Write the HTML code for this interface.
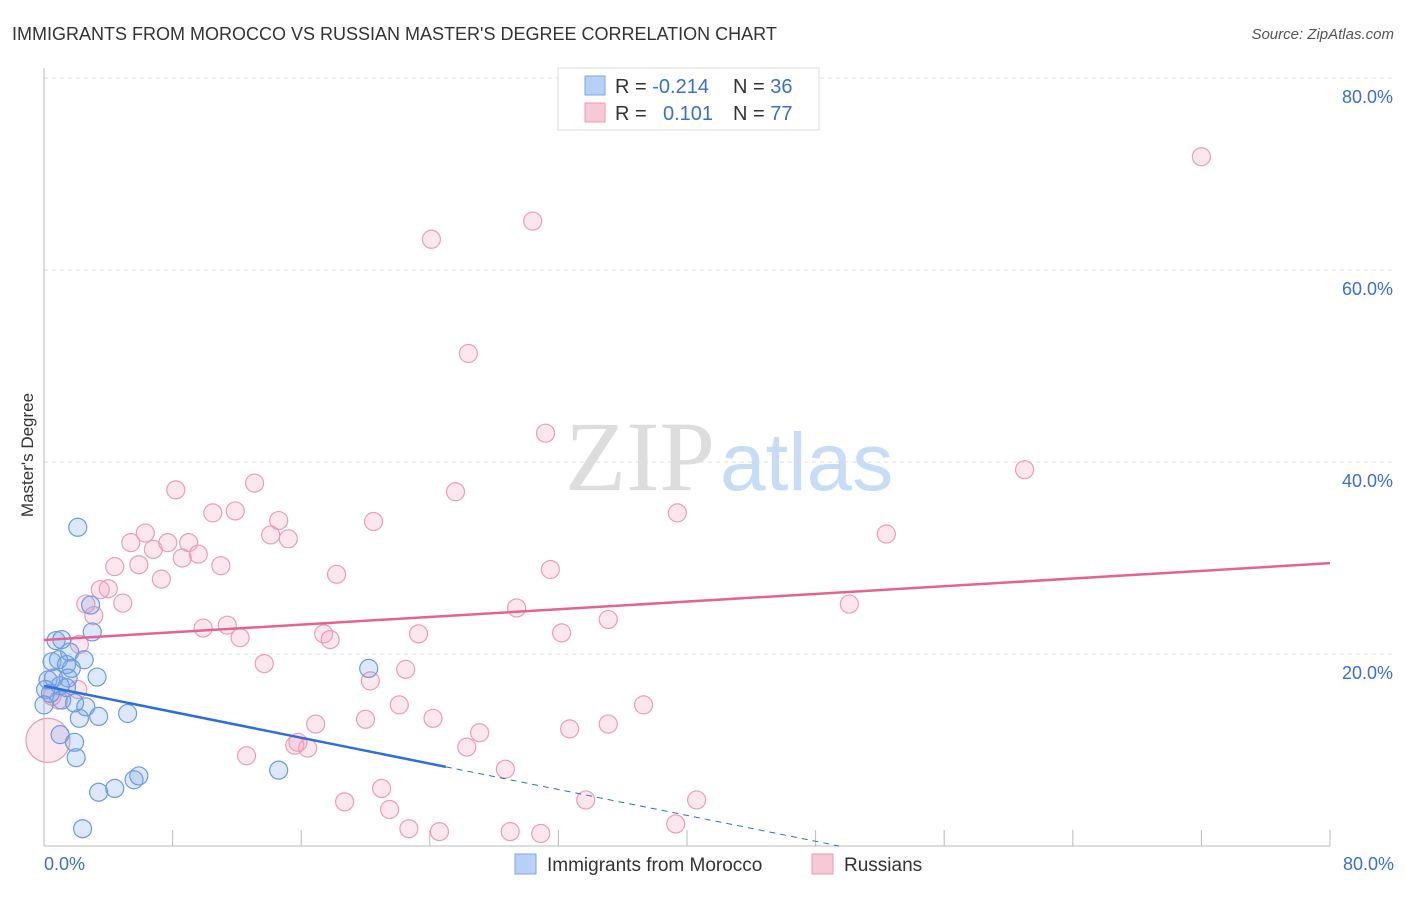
<!DOCTYPE html>
<html><head><meta charset="utf-8"><style>
body{margin:0;background:#fff;font-family:"Liberation Sans",sans-serif}
svg text{font-family:"Liberation Sans",sans-serif}
</style></head><body>
<svg width="1406" height="892" viewBox="0 0 1406 892">
<text x="12" y="40" font-size="18" fill="#333">IMMIGRANTS FROM MOROCCO VS RUSSIAN MASTER'S DEGREE CORRELATION CHART</text>
<text x="1394" y="39" font-size="15" fill="#555" font-style="italic" text-anchor="end">Source: ZipAtlas.com</text>
<text x="715" y="490" font-size="100" fill="#ddd" text-anchor="end" style="font-family:'Liberation Serif',serif">ZIP</text>
<text x="720" y="490" font-size="82" fill="#c7dcf5">atlas</text>
<g id="grid"></g>
<line x1="44" y1="68" x2="44" y2="846" stroke="#bbb"/>
<line x1="44" y1="846" x2="1330" y2="846" stroke="#bbb"/>
<text x="33" y="455" font-size="17" fill="#333" transform="rotate(-90 33 455)" text-anchor="middle">Master's Degree</text>
<text x="44" y="870" font-size="18" fill="#3a6fd0">0.0%</text>
<text x="1394" y="870" font-size="18" fill="#3a6fd0" text-anchor="end">80.0%</text>
<g id="pts"></g>
<g id="lines"></g>
<g>
<rect x="558" y="68" width="261" height="62" fill="#fff" stroke="#ddd"/>
<rect x="585" y="76" width="20" height="19" fill="#b7d0f5" stroke="#7da6e6"/>
<rect x="585" y="103" width="20" height="19" fill="#f9c8d6" stroke="#ea9ab4"/>
<text x="615" y="93" font-size="20" fill="#333">R = <tspan fill="#3a6fd0">-0.214</tspan><tspan x="733">N = </tspan><tspan fill="#3a6fd0">36</tspan></text>
<text x="615" y="120" font-size="20" fill="#333">R = <tspan x="663" fill="#3a6fd0">0.101</tspan><tspan x="733">N = </tspan><tspan fill="#3a6fd0">77</tspan></text>
</g>
<g>
<rect x="515" y="854" width="21" height="20" fill="#b7d0f5" stroke="#7da6e6"/>
<text x="547" y="871" font-size="19" fill="#333">Immigrants from Morocco</text>
<rect x="812" y="854" width="21" height="20" fill="#f9c8d6" stroke="#ea9ab4"/>
<text x="844" y="871" font-size="19" fill="#333">Russians</text>
</g>
</svg>
<script>
const yTicks=[20,40,60,80];
const xTicks=[0,8,16,24,32,40,48,56,64,72,80];
const moroccoX=[2.1,2.9,3.0,0.75,1.1,1.6,2.5,0.5,0.9,1.4,1.7,0.25,0.6,1.5,3.3,1.0,1.4,1.9,1.1,2.6,2.2,3.4,5.2,0.1,1.0,1.9,2.0,3.4,4.4,5.6,5.9,14.6,2.4,20.2,0.4,0.0];
const moroccoY=[33.2,25.1,22.3,21.4,21.5,20.2,19.4,19.2,19.4,18.9,18.5,17.3,17.5,17.5,17.6,16.7,16.5,14.9,15.2,14.5,13.3,13.5,13.8,16.3,11.6,10.8,9.2,5.6,6.0,6.9,7.3,7.9,1.8,18.5,15.9,14.7];
const russiansX=[72.0,30.4,24.1,26.4,31.2,61.0,8.2,13.1,25.6,10.5,11.9,39.4,14.6,20.5,6.3,5.4,7.7,9.0,6.8,14.1,15.2,52.4,9.6,8.6,4.4,5.9,11.0,18.2,31.5,7.3,4.0,3.5,2.6,4.9,29.4,50.1,3.1,35.1,9.9,11.4,12.2,17.4,17.8,23.3,32.2,2.2,13.7,22.5,20.3,2.1,0.5,0.9,16.9,20.0,22.1,24.2,27.1,32.7,35.1,37.3,15.8,15.6,16.4,26.3,12.6,28.7,18.7,21.0,21.5,22.7,24.6,29.0,30.9,33.7,39.3,40.6,0.25];
const russiansY=[71.8,65.1,63.2,51.3,43.0,39.2,37.1,37.8,36.9,34.7,34.9,34.7,33.9,33.8,32.6,31.6,31.6,31.6,30.9,32.4,32.0,32.5,30.4,30.0,29.1,29.3,29.2,28.3,28.8,27.8,26.8,26.7,25.2,25.3,24.8,25.2,24.0,23.6,22.7,23.0,21.7,22.1,21.5,22.1,22.2,21.0,19.0,18.4,17.2,16.3,15.6,15.2,12.7,13.2,14.7,13.3,11.8,12.2,12.7,14.7,10.8,10.5,10.2,10.3,9.4,8.0,4.6,6.0,3.8,1.8,1.5,1.5,1.3,4.8,2.3,4.8,11.0];
const moroccoTrend=[16.67,-0.337];
const russiansTrend=[21.46,0.1];
const NS='http://www.w3.org/2000/svg';
const xs=v=>44+v*16.075, ys=v=>846-v*9.6;
function mk(t,a,p){const e=document.createElementNS(NS,t);for(const k in a)e.setAttribute(k,a[k]);p.appendChild(e);return e;}
const grid=document.getElementById('grid');
yTicks.forEach(t=>{
 const l=mk('line',{x1:44,x2:1394,y1:ys(t),y2:ys(t),stroke:'#ddd','stroke-dasharray':'4,4'},grid);
 
 
 const tx=mk('text',{x:1393,y:ys(t)+25,'font-size':18,fill:'#3a6fd0','text-anchor':'end'},grid);
 tx.textContent=t.toFixed(1)+'%';
 
 
});
xTicks.forEach(t=>{
 const l=mk('line',{x1:xs(t),x2:xs(t),y1:830,y2:846,stroke:'#bbb'},grid);
 
 
});
const pts=document.getElementById('pts');
russiansX.forEach((x,i)=>{
 const big=i===russiansX.length-1;
 const c=mk('circle',{cx:xs(x),cy:ys(russiansY[i]),r:big?22:9,fill:'rgba(244,160,188,0.25)',stroke:'#eb9db6','stroke-width':1.2},pts);
 
 
});
moroccoX.forEach((x,i)=>{
 const c=mk('circle',{cx:xs(x),cy:ys(moroccoY[i]),r:9,fill:'rgba(120,165,235,0.25)',stroke:'#6b9be4','stroke-width':1.2},pts);
 
 
});
const lines=document.getElementById('lines');
let l=mk('line',{x1:xs(0),y1:ys(russiansTrend[0]),x2:xs(80),y2:ys(russiansTrend[0]+russiansTrend[1]*80),stroke:'#e5648f','stroke-width':2.5},lines);


const xe=25, xz=-moroccoTrend[0]/moroccoTrend[1];
l=mk('line',{x1:xs(0),y1:ys(moroccoTrend[0]),x2:xs(xe),y2:ys(moroccoTrend[0]+moroccoTrend[1]*xe),stroke:'#2f6fd8','stroke-width':2.5},lines);


l=mk('line',{x1:xs(xe),y1:ys(moroccoTrend[0]+moroccoTrend[1]*xe),x2:xs(xz),y2:ys(0),stroke:'#2f6fd8','stroke-width':1,'stroke-dasharray':'6,5'},lines);


</script>
</body></html>
